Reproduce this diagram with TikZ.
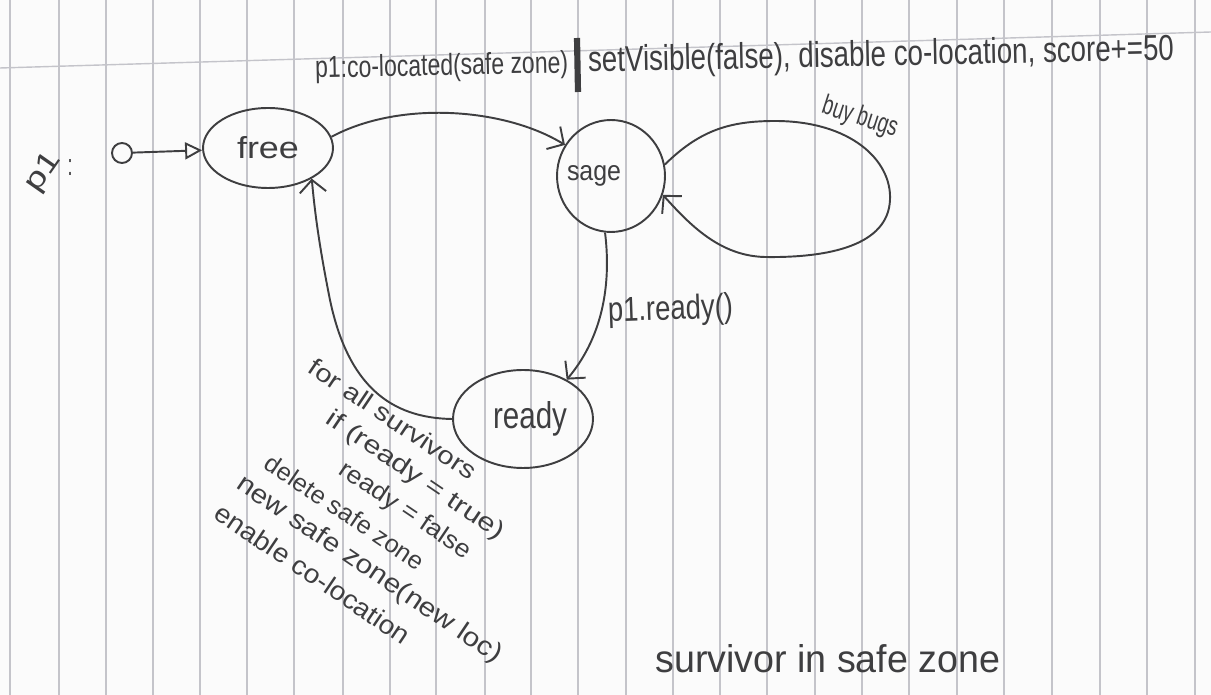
\documentclass[tikz,border=0pt]{standalone}
\usepackage{fontspec}
\setmainfont{Liberation Sans}
\usetikzlibrary{arrows.meta,shapes.geometric}
% one unit of the drawing grid
\newdimen\px \px=0.02cm
% text squeezed to a given width and height (in grid units)
\newcommand{\hw}[3]{\resizebox{#1\px}{#2\px}{#3}}
\definecolor{pencil}{RGB}{62,62,64}
\definecolor{rulecol}{RGB}{196,196,202}
\definecolor{paper}{RGB}{251,251,251}

\begin{document}
\begin{tikzpicture}[x=0.02cm,y=-0.02cm,
  state/.style={draw=pencil, line width=1.1pt, ellipse, inner sep=0pt, text=pencil},
  edge/.style={draw=pencil, line width=1.1pt, -{Straight Barb[length=7pt,width=15pt]}},
  txt/.style={text=pencil, inner sep=0pt},
  note/.style={txt, rotate=-34},
  ruling/.style={draw=rulecol, line width=0.8pt},
]
\useasboundingbox (0,0) rectangle (1211,695);
\fill[paper] (0,0) rectangle (1211,695);

% ruled paper
\foreach \x in {10,59,106,153,200,247,294,343,390,436,485,531,578,626,673,720,767,815,862,909,957,1004,1052,1100,1147,1195}
  \draw[ruling] (\x,0) -- (\x,695);
\draw[ruling] (0,68) -- (1211,32);

% object name
\node[txt, rotate=55] (p1) at (44,172) {\hw{42}{20}{p1}};
\node[txt] (colon) at (70,168) {\hw{5}{16}{:}};

% states
\node[draw=pencil, line width=1.1pt, circle, minimum size=0.4cm, inner sep=0pt] (init) at (122,153) {};
\node[state, minimum width=2.6cm, minimum height=1.6cm] (free) at (268,148) {\hw{62}{22}{free}};
\node[state, minimum width=2.16cm, minimum height=2.24cm] (sage) at (611,176) {\makebox[0pt]{\hw{54}{15}{sage}\hspace{34\px}\null}};
\node[state, minimum width=2.8cm, minimum height=1.96cm] (ready) at (523,419) {\makebox[0pt]{\hspace{14\px}\hw{74}{27}{ready}}};

% transitions
\draw[draw=pencil, line width=1.1pt, -{Triangle[open,length=0.34cm,width=0.34cm]}] (init) -- (free);
\draw[edge] (free.10) .. controls (400,100) and (505,108) .. (sage.146);
\draw[edge] (sage.12) .. controls (700,130) and (730,121) .. (775,121)
  .. controls (850,121) and (892,160) .. (890,200)
  .. controls (888,245) and (830,258) .. (765,257)
  .. controls (720,256) and (690,225) .. (sage.-20);
\draw[edge] (sage.-96) .. controls (612,290) and (600,340) .. (ready.42);
\draw[edge] (ready.180) .. controls (390,418) and (348,385) .. (330,300)
  .. controls (320,250) and (315,215) .. (free.-35);

% transition labels
\node[txt, anchor=base west, rotate=1.2] (guard) at (315,78) {\hw{253}{22}{p1:co-located(safe zone)}};
\draw[pencil, line width=3.5pt] (577,38) -- (578,92);
\node[txt, anchor=base west, rotate=1.2] (action) at (588,72) {\hw{586}{26}{setVisible(false), disable co-location, score+=50}};
\node[txt, rotate=-18] (bugs) at (860,118) {\hw{78}{20}{buy bugs}};
\node[txt, anchor=base west, rotate=2] (readylbl) at (608,322) {\hw{125}{25}{p1.ready()}};

\node[note] (l1) at (393,419) {\hw{196}{18}{for all survivors}};
\node[note] (l2) at (415,476) {\hw{210}{18}{if (ready = true)}};
\node[note] (l3) at (405,511) {\hw{154}{18}{ready = false}};
\node[note] (l4) at (345,512) {\hw{186}{18}{delete safe zone}};
\node[note] (l5) at (369,570) {\hw{314}{19}{new safe zone(new loc)}};
\node[note] (l6) at (313,574) {\hw{229}{19}{enable co-location}};

% title
\node[txt, anchor=base west] (title) at (655,673) {\hw{345}{28}{survivor in safe zone}};
\end{tikzpicture}
\end{document}
